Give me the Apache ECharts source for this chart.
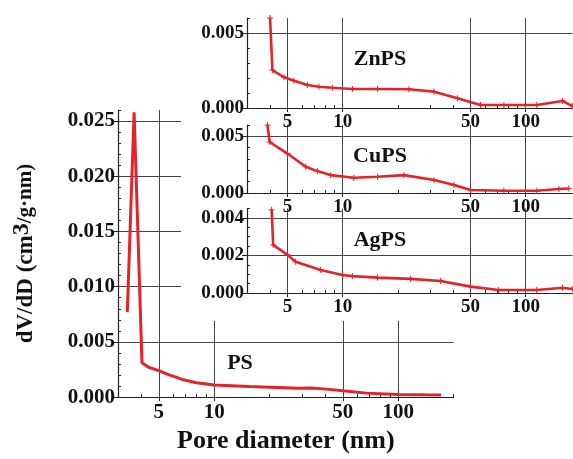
<!DOCTYPE html>
<html><head><meta charset="utf-8">
<script src="https://cdn.jsdelivr.net/npm/echarts@6/dist/echarts.min.js"></script>
<style>html,body{margin:0;padding:0;background:#fff}#c{width:573px;height:459px}</style>
</head><body><div id="c"></div>
<script>
// ---- data (pore diameter in nm, dV/dD in cm3/g·nm) ----
const psD = [3.37, 3.67, 4.05, 4.4, 5, 5.5, 6.7, 8, 10, 15.5, 22, 29, 34, 42, 50, 67, 100, 140, 171];
const psV = [0.0077, 0.0258, 0.0031, 0.0027, 0.0024, 0.0021, 0.0016, 0.0013, 0.0011, 0.00096, 0.00088, 0.0008, 0.00082, 0.0007, 0.00057, 0.00036, 0.00024, 0.00021, 0.0002];
const znD = [4.01, 4.13, 4.78, 5.42, 6.41, 7.42, 8.78, 11.3, 15.5, 23, 31.6, 42.4, 56.6, 76, 115, 159, 180];
const znV = [0.006, 0.00253, 0.00205, 0.00182, 0.00153, 0.00142, 0.00135, 0.00127, 0.00127, 0.00125, 0.00109, 0.00065, 0.0002, 0.0002, 0.0002, 0.00047, 0.00013];
const cuD = [3.88, 3.99, 4.99, 6.28, 7.27, 8.6, 11.5, 15.5, 21.6, 31.6, 40.6, 50, 76, 115, 152, 172];
const cuV = [0.006, 0.0045, 0.00348, 0.00231, 0.00193, 0.00158, 0.00134, 0.00143, 0.00158, 0.00114, 0.0007, 0.00026, 0.0002, 0.0002, 0.00035, 0.0004];
const agD = [4.09, 4.17, 5, 5.53, 7.58, 10, 11.3, 15.5, 23.5, 34.3, 50, 71, 115, 159, 180];
const agV = [0.00443, 0.00256, 0.00203, 0.00167, 0.00123, 0.00096, 0.0009, 0.00082, 0.00075, 0.00064, 0.00034, 0.00016, 0.00016, 0.00028, 0.00021];

const xMajor = [5, 10, 50, 100];
const xMinor = [4, 6, 7, 8, 9, 20, 30, 40, 60, 70, 80, 90, 200];
const psYMajor = [0, 0.005, 0.010, 0.015, 0.020, 0.025];
const psYMinor = [0.001, 0.002, 0.003, 0.004, 0.006, 0.007, 0.008, 0.009, 0.011, 0.012, 0.013, 0.014, 0.016, 0.017, 0.018, 0.019, 0.021, 0.022, 0.023, 0.024, 0.026];
const insetYMajor = [0, 0.005];
const insetYMinor = [0.001, 0.002, 0.003, 0.004, 0.006];
const agYMajor = [0, 0.002, 0.004];
const agYMinor = [0.0005, 0.001, 0.0015, 0.0025, 0.003, 0.0035, 0.0045];
const xTitle = 'Pore diameter (nm)';
const panelNames = ['PS', 'ZnPS', 'CuPS', 'AgPS'];

const RED = '#e5222a';
const FONT = 'Liberation Serif';
const lg = v => Math.log10(v);
const pts = (d, v) => d.map((x, i) => [lg(x), v[i]]);

const grids = [
  {left: 118, top: 110, width: 335.6, height: 288},
  {left: 247, top: 18, width: 325.4, height: 90},
  {left: 247, top: 125, width: 325.4, height: 68},
  {left: 247, top: 208.5, width: 325.4, height: 84.5}
];
const xRanges = [[3, 200], [3, 180], [3, 180], [3, 180]];
const yMax = [0.026, 0.006, 0.006, 0.0045];
const yMaj = [psYMajor, insetYMajor, insetYMajor, agYMajor];
const yMin = [psYMinor, insetYMinor, insetYMinor, agYMinor];
const fs = [21, 19, 19, 19];

const xAxis = [], yAxis = [];
grids.forEach((g, i) => {
  const z = i === 0 ? 0 : 5;
  xAxis.push({
    type: 'value', gridIndex: i, position: 'bottom', min: lg(xRanges[i][0]), max: lg(xRanges[i][1]), z,
    axisLine: {show: true, lineStyle: {color: '#222', width: 1.2}},
    axisTick: {show: true, customValues: xMajor.map(lg), length: 4, lineStyle: {color: '#222'}},
    axisLabel: {show: true, customValues: xMajor.map(lg), formatter: v => String(Math.round(Math.pow(10, v))),
      fontFamily: FONT, fontWeight: 'bold', fontSize: fs[i], color: '#111', margin: 5},
    splitLine: {show: true, lineStyle: {color: '#444', width: 1}},
    name: i === 0 ? xTitle : '', nameLocation: 'middle', nameGap: 30,
    nameTextStyle: {fontFamily: FONT, fontWeight: 'bold', fontSize: 26, color: '#111'}
  });
  xAxis.push({
    type: 'value', gridIndex: i, position: 'bottom', min: lg(xRanges[i][0]), max: lg(xRanges[i][1]), z,
    axisLine: {show: false}, axisLabel: {show: false}, splitLine: {show: false},
    axisTick: {show: true, inside: true, customValues: xMinor.filter(v => v <= xRanges[i][1]).map(lg), length: 3, lineStyle: {color: '#222'}}
  });
  yAxis.push({
    type: 'value', gridIndex: i, position: 'left', min: 0, max: yMax[i], z,
    axisLine: {show: true, lineStyle: {color: '#222', width: 1.2}},
    axisTick: {show: true, customValues: yMaj[i], length: 5, lineStyle: {color: '#222'}},
    axisLabel: {show: true, customValues: yMaj[i], formatter: v => v.toFixed(3),
      fontFamily: FONT, fontWeight: 'bold', fontSize: fs[i], color: '#111', margin: 3},
    splitLine: {show: true, lineStyle: {color: '#444', width: 1}},
    name: i === 0 ? '{a|dV/dD (cm}{s|3}{b|/g·nm)}' : '', nameLocation: 'middle', nameGap: 76, nameRotate: 90,
    nameTextStyle: {fontFamily: FONT, fontWeight: 'bold', fontSize: 23, color: '#111',
      rich: {
        a: {fontFamily: FONT, fontWeight: 'bold', fontSize: 23, color: '#111'},
        s: {fontFamily: FONT, fontWeight: 'bold', fontSize: 24, color: '#111', verticalAlign: 'top', padding: [0, 0, 8, 0]},
        b: {fontFamily: FONT, fontWeight: 'bold', fontSize: 21, color: '#111'}
      }}
  });
  yAxis.push({
    type: 'value', gridIndex: i, position: 'left', min: 0, max: yMax[i], z,
    axisLine: {show: false}, axisLabel: {show: false}, splitLine: {show: false},
    axisTick: {show: true, inside: true, customValues: yMin[i], length: 3, lineStyle: {color: '#222'}}
  });
});

const plus = 'path://M0,5L10,5M5,0L5,10';
const dataSets = [pts(psD, psV), pts(znD, znV), pts(cuD, cuV), pts(agD, agV)];
const series = dataSets.map((d, i) => ({
  type: 'line', xAxisIndex: i * 2, yAxisIndex: i * 2, data: d, z: i === 0 ? 2 : 10,
  showSymbol: i !== 0, symbol: plus, symbolSize: 6,
  itemStyle: {color: RED, borderColor: RED, borderWidth: 1},
  lineStyle: {color: RED, width: i === 0 ? 3 : 2.6}, clip: true, animation: false
}));

const labelPos = [[240, 363], [380, 59], [380, 156], [380, 240]];
const graphic = [
  {type: 'rect', shape: {x: 181, y: 0, width: 392, height: 321}, style: {fill: '#fff'}, z: 3, silent: true}
].concat(panelNames.map((n, i) => ({
  type: 'text', x: labelPos[i][0], y: labelPos[i][1], z: 20,
  style: {text: n, fontFamily: FONT, fontWeight: 'bold', fontSize: 22, fill: '#111', align: 'center', verticalAlign: 'middle'}
})));

const chart = echarts.init(document.getElementById('c'));
chart.setOption({animation: false, backgroundColor: '#fff', grid: grids, xAxis, yAxis, series, graphic});
</script></body></html>
